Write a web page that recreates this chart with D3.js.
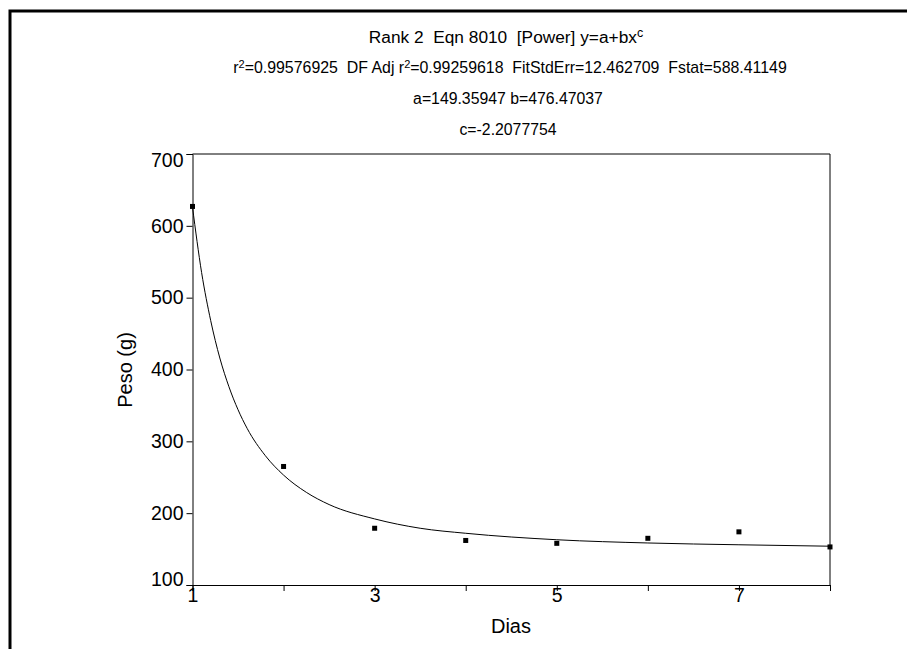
<!DOCTYPE html>
<html>
<head>
<meta charset="utf-8">
<script src="https://cdn.jsdelivr.net/npm/d3@7"></script>
<style>
    body { margin: 0; background: #fff; }
    svg { display: block; font-family: Arial, "Liberation Sans", sans-serif; }
    svg text { white-space: pre; }
</style>
</head>
<body>
<svg id="chart" width="907" height="649"></svg>
<script>
// observed points
const dias = [1, 2, 3, 4, 5, 6, 7, 8];
const peso = [627, 265, 179, 162, 158, 165, 174, 153];

// fitted curve
const fitX = [1, 1.1, 1.2, 1.3, 1.4, 1.5, 1.6, 1.8, 2, 2.25, 2.5, 3, 3.5, 4, 5, 6, 7, 8];
const fitY = [626, 535, 468, 416, 376, 344, 318, 280, 253, 229, 212, 192, 179, 172, 163, 158.5, 156, 154];

const xTicks = [1, 2, 3, 4, 5, 6, 7, 8];
const xTickLabels = [1, 3, 5, 7];
const yTicks = [100, 200, 300, 400, 500, 600, 700];

const svg = d3.select("svg#chart");

// outer frame
svg.append("rect")
    .attr("x", 10)
    .attr("y", 11)
    .attr("width", 1000)
    .attr("height", 1000)
    .style("fill", "none")
    .style("stroke", "#000")
    .style("stroke-width", 3);

const area = { left: 192.5, top: 154, right: 830, bottom: 585 };

const scX = d3.scaleLinear().domain([1, 8]).range([area.left, area.right]);
const scY = d3.scaleLinear().domain([100, 700]).range([area.bottom, area.top]);

// title block
const title = svg.append("g")
    .attr("text-anchor", "middle")
    .style("fill", "#000");

let t1 = title.append("text")
    .attr("x", 506).attr("y", 43)
    .style("font-size", "17.3px");
t1.append("tspan").text("Rank 2  Eqn 8010  [Power] y=a+bx");
t1.append("tspan").attr("dy", -6).style("font-size", "12.5px").text("c");

let t2 = title.append("text")
    .attr("x", 510).attr("y", 73)
    .style("font-size", "15.9px");
t2.append("tspan").text("r");
t2.append("tspan").attr("dy", -5).style("font-size", "11px").text("2");
t2.append("tspan").attr("dy", 5).text("=0.99576925  DF Adj r");
t2.append("tspan").attr("dy", -5).style("font-size", "11px").text("2");
t2.append("tspan").attr("dy", 5).text("=0.99259618  FitStdErr=12.462709  Fstat=588.41149");

title.append("text")
    .attr("x", 508).attr("y", 104)
    .style("font-size", "15.8px")
    .text("a=149.35947 b=476.47037");

title.append("text")
    .attr("x", 508).attr("y", 135)
    .style("font-size", "15.8px")
    .text("c=-2.2077754");

// axes
const axisX = d3.axisBottom(scX)
    .tickValues(xTicks)
    .tickSize(6)
    .tickPadding(-3)
    .tickFormat(d => xTickLabels.includes(d) ? d : "");

const axisY = d3.axisLeft(scY)
    .tickValues(yTicks)
    .tickSize(6)
    .tickPadding(3);

const gx = svg.append("g")
    .attr("transform", `translate(0, ${area.bottom})`)
    .call(axisX);

const gy = svg.append("g")
    .attr("transform", `translate(${area.left}, 0)`)
    .call(axisY);

[gx, gy].forEach(g => {
    g.select(".domain").style("stroke", "#000");
    g.selectAll(".tick line").style("stroke", "#000");
    g.selectAll(".tick text")
        .style("font-family", "Arial, 'Liberation Sans', sans-serif")
        .style("font-size", "19.5px")
        .style("fill", "#000");
});

// end labels on the y axis sit a bit inside the range
gy.selectAll(".tick text")
    .attr("dy", d => d === 700 ? "0.64em" : d === 100 ? "0.05em" : "0.32em");

// top and right of the plot box
svg.append("path")
    .attr("d", `M${scX(1)},${scY(700)}H${scX(8)}V${scY(100)}`)
    .style("fill", "none")
    .style("stroke", "#000");

// axis titles
svg.append("text")
    .attr("x", 511).attr("y", 633)
    .attr("text-anchor", "middle")
    .style("font-size", "20px")
    .text("Dias");

svg.append("text")
    .attr("transform", `translate(132, 370) rotate(-90)`)
    .attr("text-anchor", "middle")
    .style("font-size", "20px")
    .text("Peso (g)");

// fitted curve
const fit = fitX.map((x, i) => ({ x: x, y: fitY[i] }));
const line = d3.line()
    .x(d => scX(d.x))
    .y(d => scY(d.y))
    .curve(d3.curveMonotoneX);

svg.append("path")
    .datum(fit)
    .attr("d", line)
    .style("fill", "none")
    .style("stroke", "#000")
    .style("stroke-width", 1);

// points
const size = 5;
svg.selectAll(".dot")
    .data(dias.map((x, i) => ({ x: x, y: peso[i] })))
    .enter()
    .append("rect")
    .attr("class", "dot")
    .attr("x", d => scX(d.x) - size / 2)
    .attr("y", d => scY(d.y) - size / 2)
    .attr("width", size)
    .attr("height", size)
    .style("fill", "#000");
</script>
</body>
</html>
